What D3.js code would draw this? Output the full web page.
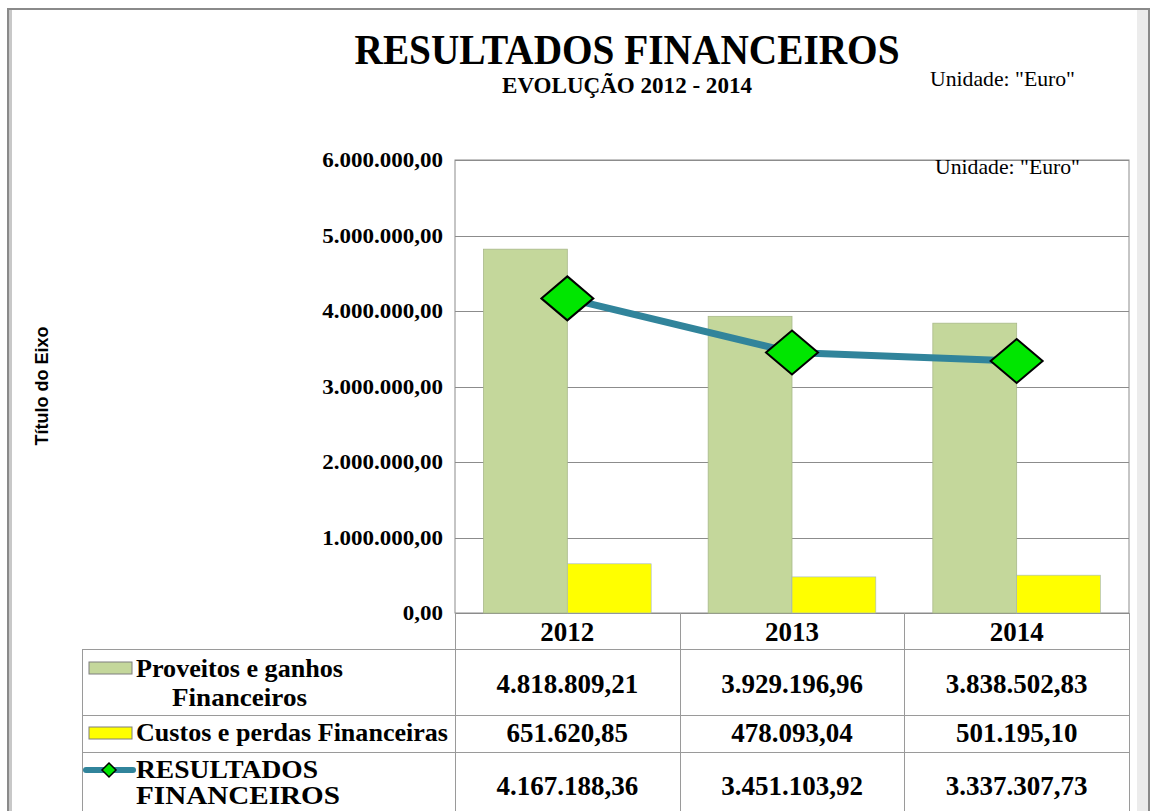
<!DOCTYPE html>
<html>
<head>
<meta charset="utf-8">
<script src="https://cdn.jsdelivr.net/npm/d3@7"></script>
<style>
  body { margin: 0; background: #fff; }
  text { font-family: "Liberation Serif", "Times New Roman", serif; }
</style>
</head>
<body>
<script>
// data
const years = ["2012", "2013", "2014"];
const proveitos = [4818809.21, 3929196.96, 3838502.83];
const custos = [651620.85, 478093.04, 501195.10];
const resultados = [4167188.36, 3451103.92, 3337307.73];
const yTicks = [0, 1000000, 2000000, 3000000, 4000000, 5000000, 6000000];
const rowLabels = [["Proveitos e ganhos", "Financeiros"], ["Custos e perdas Financeiras"], ["RESULTADOS", "FINANCEIROS"]];

const WIDTH = 1155, HEIGHT = 811;
const green = "#c4d79b", yellow = "#ffff00", teal = "#31849b", marker = "#00e600";
const gridColor = "#8c8c8c";

const locale = d3.formatLocale({ decimal: ",", thousands: ".", grouping: [3], currency: ["", ""] });
const fmt = locale.format(",.2f");

const svg = d3.select("body").append("svg")
  .attr("width", WIDTH).attr("height", HEIGHT);

// outer frame with a bit of shadow
svg.append("rect").attr("x", 1137).attr("y", 10).attr("width", 12).attr("height", 820).attr("fill", "#ececec");
svg.append("rect").attr("x", 8).attr("y", 9).attr("width", 1141).attr("height", 830)
  .attr("fill", "none").attr("stroke", "#8a8a8a").attr("stroke-width", 2);
svg.append("rect").attr("x", 9).attr("y", 10).attr("width", 3).attr("height", 820).attr("fill", "#c8c8c8");

// titles
svg.append("text").attr("x", 627).attr("y", 64).attr("text-anchor", "middle")
  .attr("font-size", 43).attr("font-weight", "bold")
  .attr("textLength", 545).attr("lengthAdjust", "spacingAndGlyphs")
  .text("RESULTADOS FINANCEIROS");
svg.append("text").attr("x", 627).attr("y", 93).attr("text-anchor", "middle")
  .attr("font-size", 23).attr("font-weight", "bold")
  .attr("textLength", 250).attr("lengthAdjust", "spacingAndGlyphs")
  .text("EVOLUÇÃO 2012 - 2014");
svg.append("text").attr("x", 930).attr("y", 86)
  .attr("font-size", 21).attr("textLength", 145).attr("lengthAdjust", "spacingAndGlyphs")
  .text('Unidade: "Euro"');

// scales
const margin = { left: 455, right: 1129, top: 160, bottom: 613 };
const x0 = d3.scaleBand().domain(years).range([margin.left, margin.right]);
const x1 = d3.scaleBand().domain([0, 1]).range([0, x0.bandwidth()]).paddingOuter(0.34);
const y = d3.scaleLinear().domain([0, 6000000]).range([margin.bottom, margin.top]);

// plot area and gridlines
svg.append("rect").attr("x", margin.left).attr("y", margin.top)
  .attr("width", margin.right - margin.left).attr("height", margin.bottom - margin.top)
  .attr("fill", "#fff").attr("stroke", gridColor).attr("stroke-width", 1);

svg.append("g").selectAll("line").data(yTicks).enter().append("line")
  .attr("x1", margin.left).attr("x2", margin.right)
  .attr("y1", d => Math.round(y(d)) + 0.5).attr("y2", d => Math.round(y(d)) + 0.5)
  .attr("stroke", gridColor);

// tick labels are drawn a little wide, as in the original
svg.append("g").selectAll("text").data(yTicks).enter().append("text")
  .attr("transform", d => `translate(443,${y(d)}) scale(1.15,1)`)
  .attr("dy", "0.35em")
  .attr("text-anchor", "end").attr("font-size", 20).attr("font-weight", "bold")
  .text(d => fmt(d));

svg.append("text")
  .attr("transform", "translate(48,386) rotate(-90)")
  .attr("text-anchor", "middle")
  .style("font-family", "'Liberation Sans', Arial, sans-serif")
  .attr("font-size", 18).attr("font-weight", "bold")
  .text("Título do Eixo");

svg.append("text").attr("x", 935).attr("y", 174)
  .attr("font-size", 21).attr("textLength", 145).attr("lengthAdjust", "spacingAndGlyphs")
  .text('Unidade: "Euro"');

// bars
const bars = svg.append("g");
bars.selectAll(".prov").data(years).enter().append("rect")
  .attr("x", (d) => x0(d) + x1(0)).attr("width", x1.bandwidth())
  .attr("y", (d, i) => y(proveitos[i])).attr("height", (d, i) => y(0) - y(proveitos[i]))
  .attr("fill", green).attr("stroke", "#a9b98a").attr("stroke-width", 0.8);
bars.selectAll(".cust").data(years).enter().append("rect")
  .attr("x", (d) => x0(d) + x1(1)).attr("width", x1.bandwidth())
  .attr("y", (d, i) => y(custos[i])).attr("height", (d, i) => y(0) - y(custos[i]))
  .attr("fill", yellow).attr("stroke", "#9fb4cc").attr("stroke-width", 0.6);

// line series
const cx = d => x0(d) + x0.bandwidth() / 2;
const line = d3.line().x((d, i) => cx(years[i])).y(d => y(d));
svg.append("path").datum(resultados).attr("d", line)
  .attr("fill", "none").attr("stroke", teal).attr("stroke-width", 7).attr("stroke-linejoin", "round");

const diamond = (w, h) => `M0,${-h}L${w},0L0,${h}L${-w},0Z`;
svg.append("g").selectAll("path").data(resultados).enter().append("path")
  .attr("transform", (d, i) => `translate(${cx(years[i])},${y(d)})`)
  .attr("d", diamond(26, 22))
  .attr("fill", marker).attr("stroke", "#000").attr("stroke-width", 2);

// data table
const rows = [649, 715, 752];
const tableLeft = 82;
const table = svg.append("g").attr("stroke", "#9a9a9a").attr("stroke-width", 1);
rows.forEach(r => {
  table.append("line").attr("x1", tableLeft).attr("x2", margin.right)
    .attr("y1", r + 0.5).attr("y2", r + 0.5);
});
table.append("line").attr("x1", tableLeft + 0.5).attr("x2", tableLeft + 0.5)
  .attr("y1", rows[0]).attr("y2", HEIGHT);
const colEdges = years.map(d => x0(d)).concat([margin.right]);
colEdges.forEach(cxv => {
  table.append("line").attr("x1", Math.round(cxv) + 0.5).attr("x2", Math.round(cxv) + 0.5)
    .attr("y1", margin.bottom).attr("y2", HEIGHT);
});

// header years
svg.append("g").selectAll("text").data(years).enter().append("text")
  .attr("x", d => cx(d)).attr("y", 641).attr("text-anchor", "middle")
  .attr("font-size", 27).attr("font-weight", "bold").text(d => d);

// row labels
const labelBase = [[677, 706], [741], [778, 804]];
const labelX = [[136, 172], [136], [136, 136]];
const labelLen = [[207, 135], [312], [182, 204]];
rowLabels.forEach((lines, r) => {
  lines.forEach((t, k) => {
    svg.append("text").attr("x", labelX[r][k]).attr("y", labelBase[r][k])
      .attr("font-size", r === 2 ? 25 : 26).attr("font-weight", "bold")
      .attr("textLength", labelLen[r][k]).attr("lengthAdjust", "spacingAndGlyphs")
      .text(t);
  });
});

// legend keys in the table
svg.append("rect").attr("x", 89).attr("y", 662).attr("width", 43).attr("height", 12)
  .attr("fill", green).attr("stroke", "#7f7f7f").attr("stroke-width", 1);
svg.append("rect").attr("x", 89).attr("y", 727).attr("width", 43).attr("height", 12)
  .attr("fill", yellow).attr("stroke", "#7f7f7f").attr("stroke-width", 1);
svg.append("line").attr("x1", 86).attr("x2", 133).attr("y1", 770).attr("y2", 770)
  .attr("stroke", teal).attr("stroke-width", 6).attr("stroke-linecap", "round");
svg.append("path").attr("transform", "translate(109,770)").attr("d", diamond(7, 7))
  .attr("fill", marker).attr("stroke", "#000").attr("stroke-width", 1.5);

// values
const valueRows = [proveitos, custos, resultados];
const valueBase = [693, 742, 795];
valueRows.forEach((vals, r) => {
  svg.append("g").selectAll("text").data(vals).enter().append("text")
    .attr("x", (d, i) => cx(years[i])).attr("y", valueBase[r])
    .attr("text-anchor", "middle").attr("font-size", 27).attr("font-weight", "bold")
    .text(d => fmt(d));
});
</script>
</body>
</html>
